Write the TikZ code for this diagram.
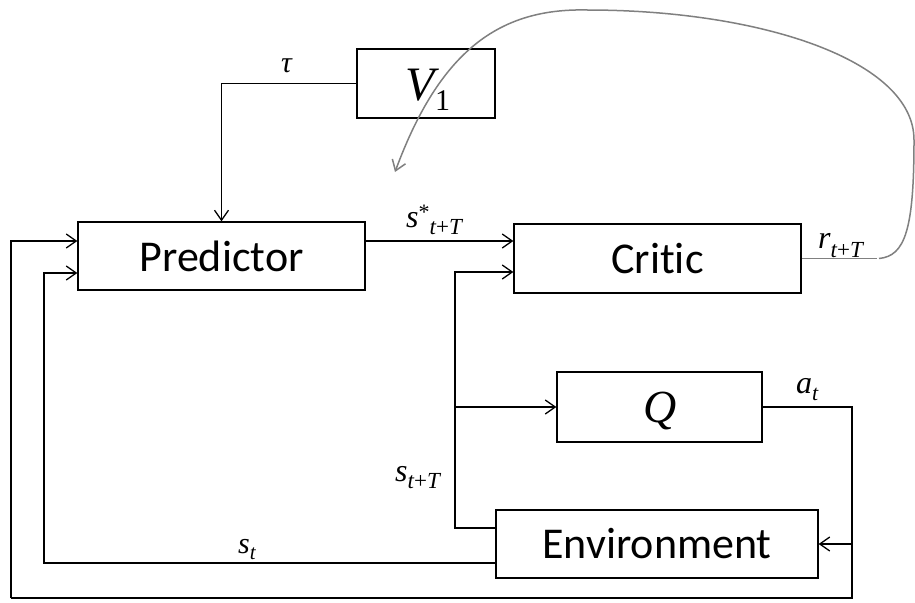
\documentclass[tikz,border=0pt]{standalone}
\usepackage{fontspec}
\setmainfont[Ligatures={NoCommon}]{Carlito}
\newfontfamily\tnr{Liberation Serif}
\usetikzlibrary{arrows.meta}
\newcommand{\mi}[2]{{\fontsize{#1}{#1}\selectfont\tnr\itshape #2}}
\newcommand{\tpT}[1]{\mi{#1}{t\upshape+\itshape T}}
\begin{document}
\begin{tikzpicture}[x=1pt,y=-1pt,
  box/.style={draw, line width=1.3pt, inner sep=0pt, font=\fontsize{44}{44}\selectfont},
  ln/.style={line width=1.3pt},
  arr/.style={ln, -{Straight Barb[length=10pt,width=14pt]}},
  gln/.style={line width=1.5pt, draw=black!50},
  lab/.style={anchor=base west, inner sep=0pt}]
\useasboundingbox (0,0) rectangle (915,602);
\fill[white] (0,0) rectangle (915,602);

% boxes
\node[box, minimum width=138pt, minimum height=69pt] (v1) at (426,83.5) {};
\node[box, minimum width=287pt, minimum height=68pt] (pred) at (221.5,256) {Predictor};
\node[box, minimum width=287pt, minimum height=69pt] (critic) at (657.5,258.5) {Critic};
\node[box, minimum width=205pt, minimum height=70pt] (q) at (659.5,407) {};
\node[box, minimum width=322pt, minimum height=68pt] (env) at (657,544) {Environment};

% box labels (math)
\node[lab] (vlab) at (405,100) {\mi{48}{V}};
\node[lab] (onelab) at (435,110) {\fontsize{30}{30}\selectfont\tnr 1};
\node[anchor=base, inner sep=0pt] (qlab) at (660,422) {\mi{46}{Q}};

% named junction coordinates
\coordinate (jx) at (455,407);
\coordinate (ax) at (852,407);
\coordinate (bot) at (852,598);
\coordinate (lft) at (11,598);
\coordinate (inner) at (44,563);
\coordinate (rend) at (877,258.5);
\coordinate (rstart) at (879,258.5);
\coordinate (tip) at (395,172);

% connectors
\draw[arr] (v1.west) -| (pred.north);
\draw[arr] ([yshift=15pt]pred.east) -- ([yshift=15pt]pred.east -| critic.west);
\draw[arr] ([yshift=16pt]env.west) -| (jx) |- ([yshift=-13.5pt]critic.west);
\draw[arr] (jx) -- (q.west);
\draw[arr] ([yshift=-19pt]env.west) -| ([yshift=-17pt]pred.west -| inner) -- ([yshift=-17pt]pred.west);
\draw[ln] (q.east) -- (ax) -- (bot) -- (lft);
\draw[arr] (lft) |- ([yshift=15pt]pred.west);
\draw[arr] (ax |- env.east) -- (env.east);

% reward feedback (gray)
\draw[gln] (critic.east) -- (rend);
\draw[gln, -{Straight Barb[length=10pt,width=14pt]}] (rstart)
  .. controls (905,256) and (914,230) .. (914,140)
  .. controls (914,60) and (760,10) .. (587,10)
  .. controls (500,8) and (440,50) .. (tip);

% connector labels
\node[lab] (taul) at (281,72) {\mi{30}{τ}};
\node[lab] (sstar) at (406,227) {\mi{32}{s}\raisebox{8pt}{\fontsize{22}{22}\selectfont\tnr *}\raisebox{-7pt}{\tpT{23}}};
\node[lab] (rl) at (818,248) {\mi{32}{r}\raisebox{-9pt}{\tpT{23}}};
\node[lab] (al) at (796,393) {\mi{32}{a}\raisebox{-7pt}{\mi{22}{t}}};
\node[lab] (stT) at (395,481) {\mi{32}{s}\raisebox{-7pt}{\tpT{23}}};
\node[lab] (stl) at (238,553) {\mi{30}{s}\raisebox{-6pt}{\mi{21}{t}}};
\end{tikzpicture}
\end{document}
